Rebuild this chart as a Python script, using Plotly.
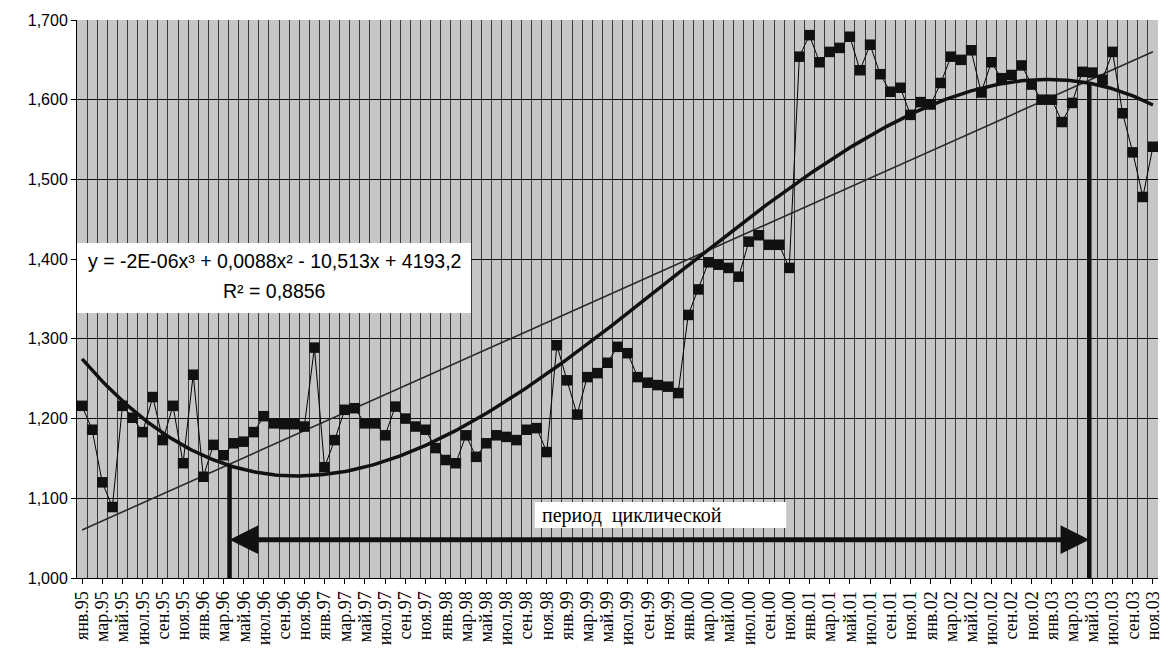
import numpy as np
import plotly.graph_objects as go

# Monthly index values, Jan 1995 - Nov 2003
years = ["95", "96", "97", "98", "99", "00", "01", "02", "03"]
months = ["янв", "фев", "мар", "апр", "май", "июн",
          "июл", "авг", "сен", "окт", "ноя", "дек"]

v1995 = [1.216, 1.186, 1.120, 1.089, 1.216, 1.201, 1.183, 1.227, 1.173, 1.216, 1.144, 1.255]
v1996 = [1.127, 1.167, 1.154, 1.169, 1.171, 1.183, 1.203, 1.194, 1.193, 1.193, 1.190, 1.289]
v1997 = [1.139, 1.173, 1.211, 1.213, 1.194, 1.194, 1.179, 1.215, 1.200, 1.190, 1.186, 1.163]
v1998 = [1.148, 1.144, 1.179, 1.152, 1.169, 1.179, 1.177, 1.173, 1.186, 1.188, 1.158, 1.292]
v1999 = [1.248, 1.205, 1.252, 1.257, 1.270, 1.290, 1.282, 1.252, 1.245, 1.242, 1.240, 1.232]
v2000 = [1.330, 1.362, 1.396, 1.393, 1.389, 1.378, 1.422, 1.430, 1.418, 1.418, 1.389, 1.654]
v2001 = [1.681, 1.647, 1.660, 1.665, 1.679, 1.637, 1.669, 1.632, 1.610, 1.615, 1.581, 1.597]
v2002 = [1.594, 1.621, 1.654, 1.650, 1.662, 1.609, 1.647, 1.627, 1.631, 1.643, 1.619, 1.600]
v2003 = [1.600, 1.572, 1.596, 1.635, 1.634, 1.625, 1.660, 1.583, 1.534, 1.478, 1.541]

values = v1995 + v1996 + v1997 + v1998 + v1999 + v2000 + v2001 + v2002 + v2003
n = len(values)
idx = np.arange(n)
labels = [f"{months[k % 12]}.{years[k // 12]}" for k in range(n)]

# Cyclic period boundaries (month index) and arrow level
period_start = 14.6
period_end = 99.7
arrow_level = 1.048

y_ticks = [1.0, 1.1, 1.2, 1.3, 1.4, 1.5, 1.6, 1.7]

# Trend lines fitted to the series
cubic = np.polyfit(idx, values, 3)
linear = np.polyfit(idx, values, 1)
xs = np.linspace(0, n - 1, 400)
cubic_y = np.polyval(cubic, xs)
linear_y = np.polyval(linear, xs)

fig = go.Figure()

fig.add_trace(go.Scatter(
    x=xs, y=linear_y, mode="lines",
    line=dict(color="#2a2a2a", width=1.6), hoverinfo="skip"))

fig.add_trace(go.Scatter(
    x=idx, y=values, mode="lines+markers",
    line=dict(color="black", width=1),
    marker=dict(symbol="square", size=10.5, color="#111111"),
    name="index"))

fig.add_trace(go.Scatter(
    x=xs, y=cubic_y, mode="lines",
    line=dict(color="#111111", width=3.5), hoverinfo="skip"))

# Vertical markers of the cycle, each rising to the cubic trend
for px in (period_start, period_end):
    fig.add_shape(type="line", x0=px, x1=px, y0=1.0,
                  y1=float(np.polyval(cubic, px)),
                  line=dict(color="#111111", width=4.5), layer="above")

# Double-headed arrow between the boundaries
fig.add_shape(type="line", x0=period_start + 1.5, x1=period_end - 1.5,
              y0=arrow_level, y1=arrow_level,
              line=dict(color="#111111", width=5), layer="above")
for tip, tail in ((period_start, period_start + 3), (period_end, period_end - 3)):
    fig.add_annotation(
        x=tip, y=arrow_level, ax=tail, ay=arrow_level,
        xref="x", yref="y", axref="x", ayref="y",
        showarrow=True, arrowhead=2, arrowwidth=5, arrowsize=1.15,
        arrowcolor="#111111", text=" ")

# Period caption
fig.add_shape(type="rect", x0=44.8, x1=69.7, y0=1.0627, y1=1.0954,
              fillcolor="white", line=dict(width=0), layer="above")
fig.add_annotation(
    x=45.3, y=1.079, xref="x", yref="y", xanchor="left", yanchor="middle",
    text="период  циклической", showarrow=False,
    font=dict(family="Liberation Serif", size=20, color="black"))

# Trend equation box
fig.add_shape(type="rect", x0=-0.5, x1=38.5, y0=1.3325, y1=1.4203,
              fillcolor="white", line=dict(width=0), layer="above")
fig.add_annotation(
    x=19.0, y=1.398, xref="x", yref="y", showarrow=False,
    text="y = -2E-06x³ + 0,0088x² - 10,513x + 4193,2",
    font=dict(family="Liberation Sans", size=19.5, color="black"))
fig.add_annotation(
    x=19.0, y=1.360, xref="x", yref="y", showarrow=False,
    text="R² = 0,8856",
    font=dict(family="Liberation Sans", size=19.5, color="black"))

fig.update_layout(
    width=1169, height=654,
    margin=dict(l=77, r=6, t=20, b=76),
    paper_bgcolor="white", plot_bgcolor="#c6c6c6",
    showlegend=False, separators=", ",
)

fig.update_xaxes(
    range=[-0.5, n - 0.5],
    tickmode="array", tickvals=list(idx[::2]), ticktext=labels[::2],
    tickangle=-90, ticks="outside", ticklen=5, tickcolor="black",
    showgrid=False, zeroline=False,
    showline=True, linecolor="black", linewidth=1,
    tickfont=dict(family="Liberation Serif", size=18, color="black"),
    minor=dict(tick0=-0.5, dtick=1, showgrid=True,
               gridcolor="#3a3a3a", gridwidth=1),
)
fig.update_yaxes(
    range=[1.0, 1.7], tickvals=y_ticks, tickformat=".3f",
    ticks="outside", ticklen=5, tickcolor="black",
    showgrid=True, gridcolor="#111111", gridwidth=1.2,
    zeroline=False, showline=True, linecolor="black", linewidth=1,
    tickfont=dict(family="Liberation Sans", size=16, color="black"),
)

fig.write_html("out.html")
